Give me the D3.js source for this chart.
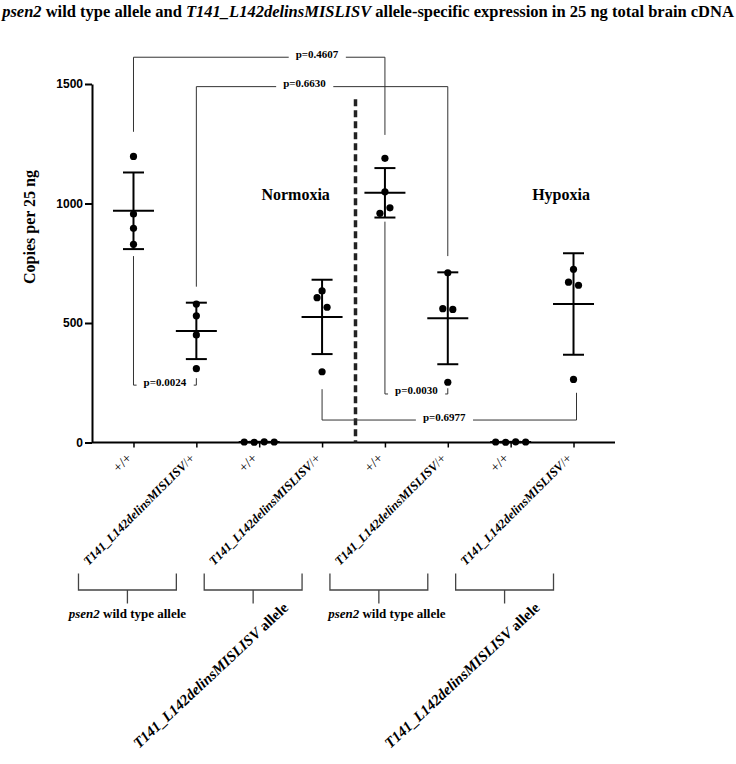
<!DOCTYPE html>
<html>
<head>
<meta charset="utf-8">
<script src="https://cdn.jsdelivr.net/npm/d3@7"></script>
<style>
  html, body { margin: 0; padding: 0; background: #fff; }
  svg { display: block; }
</style>
</head>
<body>
<svg id="chart" width="736" height="764"></svg>
<script>
// ---------------- DATA ----------------
const categories = ["+/+", "T141_L142delinsMISLISV/+", "+/+", "T141_L142delinsMISLISV/+",
                    "+/+", "T141_L142delinsMISLISV/+", "+/+", "T141_L142delinsMISLISV/+"];
const normoxia_wtAllele_wt   = [1197, 956, 896, 829];
const normoxia_wtAllele_mut  = [579, 530, 450, 309];
const normoxia_mutAllele_wt  = [2, 1, 3, 2];
const normoxia_mutAllele_mut = [634, 606, 566, 296];
const hypoxia_wtAllele_wt    = [1189, 1049, 982, 959];
const hypoxia_wtAllele_mut   = [710, 560, 557, 252];
const hypoxia_mutAllele_wt   = [2, 1, 3, 2];
const hypoxia_mutAllele_mut  = [725, 671, 658, 264];
const yTicks = [0, 500, 1000, 1500];
const alleleGroups = ["psen2 wild type allele", "T141_L142delinsMISLISV allele",
                      "psen2 wild type allele", "T141_L142delinsMISLISV allele"];
const conditions = ["Normoxia", "Hypoxia"];
// comparisons: [from index, to index, p label]
const comparisons = [
  [0, 4, "p=0.4607"],
  [1, 5, "p=0.6630"],
  [0, 1, "p=0.0024"],
  [4, 5, "p=0.0030"],
  [3, 7, "p=0.6977"]
];
const title = [["psen2", true], [" wild type allele and ", false], ["T141_L142delinsMISLISV", true],
               [" allele-specific expression in 25 ng total brain cDNA", false]];
const yTitle = "Copies per 25 ng";

// ---------------- LAYOUT (not data) ----------------
const groups = [normoxia_wtAllele_wt, normoxia_wtAllele_mut, normoxia_mutAllele_wt, normoxia_mutAllele_mut,
                hypoxia_wtAllele_wt, hypoxia_wtAllele_mut, hypoxia_mutAllele_wt, hypoxia_mutAllele_mut];
const swarmSlots = [[0,0,0,0],[0,0,0,0],[-1.5,-0.5,0.5,1.5],[0,-0.5,0.5,0],
                    [0,0,0.5,-0.5],[0,-0.5,0.5,0],[-1.5,-0.5,0.5,1.5],[0,-0.5,0.5,0]];
// bracket placement in value units: level, left end, right end, label position fraction
const bracketLayout = [
  [1612, 1300, 1287, 0.73],
  [1489, 652, 780, 0.43],
  [240, 780, 269, 0.5],
  [203, 924, 227, 0.5],
  [94, 223, 208, 0.48]
];

const serif = "'Liberation Serif', 'Times New Roman', serif";
const sans = "'Liberation Sans', Arial, sans-serif";

const svg = d3.select("#chart");
const x = d3.scalePoint().domain(d3.range(categories.length)).range([92, 615]).padding(0.66);
const y = d3.scaleLinear().domain([0, 1500]).range([442.5, 84]);

// Title
const t = svg.append("text").attr("x", 368).attr("y", 17).attr("text-anchor", "middle").attr("fill", "#000")
  .style("font-family", serif).style("font-size", "16.5px").style("font-weight", "bold");
title.forEach(([s, it]) => t.append("tspan").text(s).style("font-style", it ? "italic" : "normal"));

// Y axis
const yAxis = svg.append("g").attr("transform", "translate(92,0)")
  .call(d3.axisLeft(y).tickValues(yTicks).tickSize(7).tickPadding(2).tickSizeOuter(0).tickFormat(d3.format("d")));
yAxis.select(".domain").attr("stroke", "#000").attr("stroke-width", 2);
yAxis.selectAll(".tick line").attr("stroke", "#000").attr("stroke-width", 2);
yAxis.selectAll(".tick text").style("font-family", sans).style("font-size", "12px").style("font-weight", "bold").attr("fill", "#000");

svg.append("text").attr("transform", "translate(35,227) rotate(-90)").attr("text-anchor", "middle").attr("fill", "#000")
  .style("font-family", serif).style("font-size", "16px").style("font-weight", "bold").text(yTitle);

// X axis
const xAxis = svg.append("g").attr("transform", `translate(0,${y(0)})`)
  .call(d3.axisBottom(x).tickSize(5).tickSizeOuter(0).tickFormat(""));
xAxis.select(".domain").attr("d", `M92,0H615`).attr("stroke", "#000").attr("stroke-width", 2);
xAxis.selectAll(".tick line").attr("stroke", "#000").attr("stroke-width", 1.5);

// x tick labels
categories.forEach((c, i) => {
  const tx = svg.append("text")
    .attr("transform", `translate(${x(i) - 1},459) rotate(-45)`)
    .attr("text-anchor", "end").attr("fill", "#000")
    .style("font-family", serif).style("font-size", "12.5px");
  if (c !== "+/+") {
    tx.append("tspan").text(c.replace("/+", "")).style("font-style", "italic").style("font-weight", "bold");
    tx.append("tspan").text("/+").style("font-size", "13px");
  } else {
    tx.append("tspan").text(c).style("font-size", "14px");
  }
});

// Dashed separator between conditions
const sepX = (x(3) + x(4)) / 2 + 2;
svg.append("line").attr("x1", sepX).attr("x2", sepX).attr("y1", y(1436)).attr("y2", y(0))
  .attr("stroke", "#222").attr("stroke-width", 3.5).attr("stroke-dasharray", "7,4");

// Condition labels
[[conditions[0], (x(2) + x(3)) / 2 + 5], [conditions[1], (x(6) + x(7)) / 2 + 19]].forEach(([s, cx]) => {
  svg.append("text").attr("x", cx).attr("y", 200).attr("text-anchor", "middle").attr("fill", "#000")
    .style("font-family", serif).style("font-size", "16px").style("font-weight", "bold").text(s);
});

// Comparison brackets
comparisons.forEach(([a, b, p], k) => {
  const [lvl, le, re, frac] = bracketLayout[k];
  const xa = x(a), xb = x(b) + (k === 4 ? 3 : 0), ly = y(lvl);
  const g = svg.append("g");
  const lbl = g.append("text").attr("x", xa + (xb - xa) * frac).attr("y", ly + 0.5).attr("text-anchor", "middle")
    .attr("fill", "#000")
    .style("font-family", serif).style("font-size", "11px").style("font-weight", "bold").text(p);
  const bb = lbl.node().getBBox();
  const pad = 7;
  const path = `M${xa},${y(le)}V${ly}H${bb.x - pad}M${bb.x + bb.width + pad},${ly}H${xb}V${y(re)}`;
  g.insert("path", "text").attr("d", path).attr("fill", "none").attr("stroke", "#333").attr("stroke-width", 1);
});

// Data: error bars (mean ± SD), means, points
groups.forEach((vals, i) => {
  const cx = x(i);
  const m = d3.mean(vals), sd = d3.deviation(vals);
  const g = svg.append("g").attr("stroke", "#000").attr("stroke-width", 2);
  g.append("line").attr("x1", cx).attr("x2", cx).attr("y1", y(m - sd)).attr("y2", y(m + sd));
  g.append("line").attr("x1", cx - 10.5).attr("x2", cx + 10.5).attr("y1", y(m + sd)).attr("y2", y(m + sd));
  g.append("line").attr("x1", cx - 10.5).attr("x2", cx + 10.5).attr("y1", y(m - sd)).attr("y2", y(m - sd));
  g.append("line").attr("x1", cx - 20.5).attr("x2", cx + 20.5).attr("y1", y(m)).attr("y2", y(m));
  svg.append("g").selectAll("circle").data(vals).join("circle")
    .attr("cx", (d, j) => cx + swarmSlots[i][j] * 10)
    .attr("cy", d => y(d))
    .attr("r", 3.6).attr("fill", "#000");
});

// Allele group brackets below axis
alleleGroups.forEach((s, k) => {
  const l = x(2 * k) - 55, r = x(2 * k + 1) - 20, c = (l + r) / 2;
  svg.append("path").attr("d", `M${l},573.5V590H${r}V573.5M${c},590V603.5`)
    .attr("fill", "none").attr("stroke", "#444").attr("stroke-width", 1.3);
  if (s.startsWith("psen2")) {
    const tx = svg.append("text").attr("x", c + (k === 2 ? 8 : 0)).attr("y", 618).attr("text-anchor", "middle")
      .attr("fill", "#000")
      .style("font-family", serif).style("font-size", "13px").style("font-weight", "bold");
    tx.append("tspan").text("psen2").style("font-style", "italic");
    tx.append("tspan").text(s.replace("psen2", ""));
  } else {
    const tx = svg.append("text").attr("transform", `translate(${c + 36},609) rotate(-43)`).attr("text-anchor", "end")
      .attr("fill", "#000")
      .style("font-family", serif).style("font-size", "15px").style("font-weight", "bold");
    tx.append("tspan").text(s.replace(" allele", "")).style("font-style", "italic");
    tx.append("tspan").text(" allele");
  }
});
</script>
</body>
</html>
